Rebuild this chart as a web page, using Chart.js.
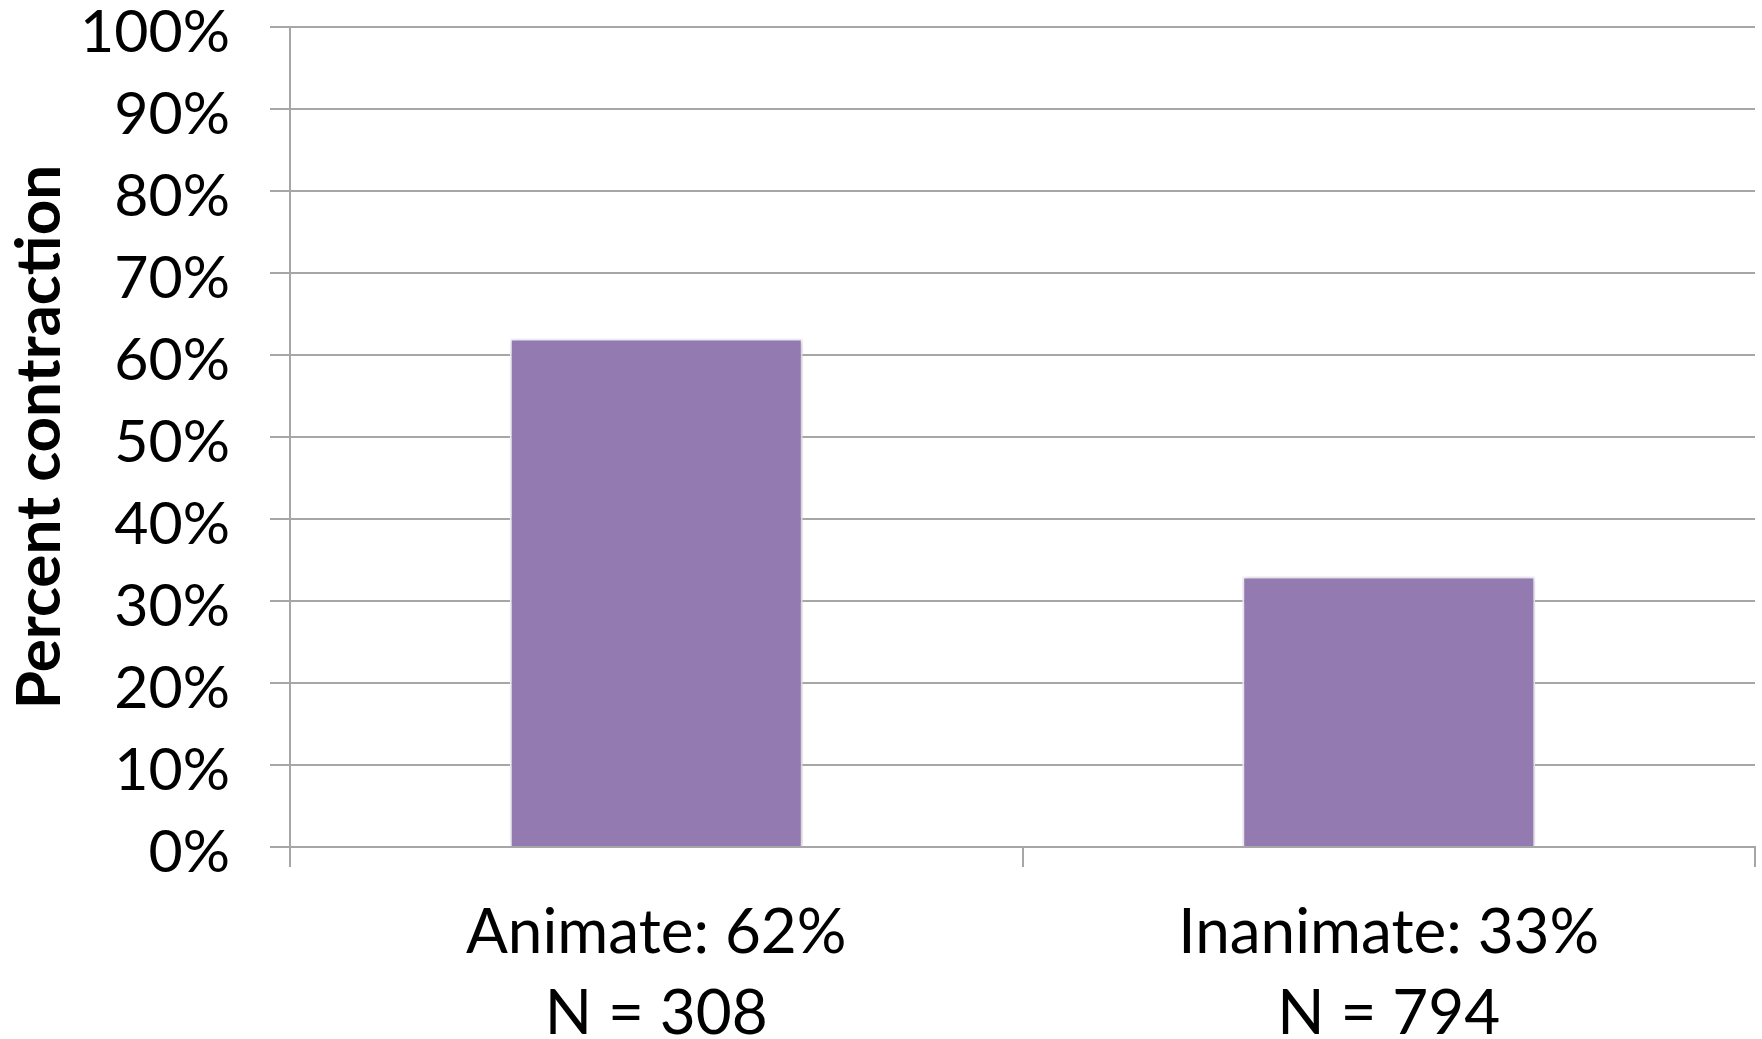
<!DOCTYPE html>
<html>
<head>
<meta charset="utf-8">
<script src="https://cdn.jsdelivr.net/npm/chart.js@4/dist/chart.umd.min.js"></script>
<style>
  html, body { margin: 0; padding: 0; background: #ffffff; }
  #wrap { width: 1762px; height: 1039px; }
</style>
</head>
<body>
<div id="wrap"><canvas id="chart" width="1762" height="1039"></canvas></div>
<script>
// Share of contraction by referent type
const categoryNames = ['Animate', 'Inanimate'];
const contractionPct = [62, 33];
const sampleSizes = [308, 794];
const yTicks = [0, 10, 20, 30, 40, 50, 60, 70, 80, 90, 100];

const categoryLabels = categoryNames.map((name, i) => [
  name + ': ' + contractionPct[i] + '%',
  'N = ' + sampleSizes[i]
]);

const FONT = 'Lato, "Open Sans", sans-serif';
const GRID = '#a6a6a6';

// soft drop shadow behind the bars
const barShadow = {
  id: 'barShadow',
  beforeDatasetsDraw(chart) {
    const ctx = chart.ctx;
    ctx.save();
    ctx.shadowColor = 'rgba(0,0,0,0.22)';
    ctx.shadowBlur = 5;
    ctx.shadowOffsetX = 1;
    ctx.shadowOffsetY = 1;
  },
  afterDatasetsDraw(chart) {
    chart.ctx.restore();
  }
};

new Chart(document.getElementById('chart'), {
  type: 'bar',
  data: {
    labels: categoryLabels,
    datasets: [{
      data: contractionPct,
      backgroundColor: '#937ab0',
      borderColor: '#f4f1f8',
      borderWidth: 2,
      borderSkipped: 'bottom',
      categoryPercentage: 0.4,
      barPercentage: 1.0
    }]
  },
  options: {
    responsive: false,
    animation: false,
    layout: { padding: { top: 27, right: 7, left: 0, bottom: 0 } },
    plugins: {
      legend: { display: false },
      tooltip: { enabled: false }
    },
    scales: {
      y: {
        min: 0,
        max: 100,
        afterBuildTicks(scale) {
          scale.ticks = yTicks.map(v => ({ value: v }));
        },
        afterFit(scale) {
          scale.width = 290;
          scale.paddingTop = 0;
          scale.paddingBottom = 0;
        },
        ticks: {
          callback: v => v + '%',
          color: '#000000',
          font: { family: FONT, size: 59 },
          padding: 40,
          labelOffset: 6
        },
        grid: {
          color: GRID,
          lineWidth: 2,
          tickLength: 20,
          drawTicks: true
        },
        border: { color: GRID, width: 2 },
        title: {
          display: true,
          text: 'Percent contraction',
          color: '#000000',
          font: { family: FONT, size: 62, weight: 'bold' },
          padding: { top: 3, bottom: 0 }
        }
      },
      x: {
        afterFit(scale) {
          scale.height = 192;
          scale.paddingLeft = 0;
          scale.paddingRight = 0;
        },
        ticks: {
          color: '#000000',
          font: { family: FONT, size: 62, lineHeight: 1.3 },
          padding: 26,
          maxRotation: 0,
          autoSkip: false
        },
        grid: {
          color: GRID,
          lineWidth: 2,
          drawOnChartArea: false,
          drawTicks: true,
          tickLength: 20,
          offset: true
        },
        border: { color: GRID, width: 2 }
      }
    }
  },
  plugins: [barShadow]
});
</script>
</body>
</html>
